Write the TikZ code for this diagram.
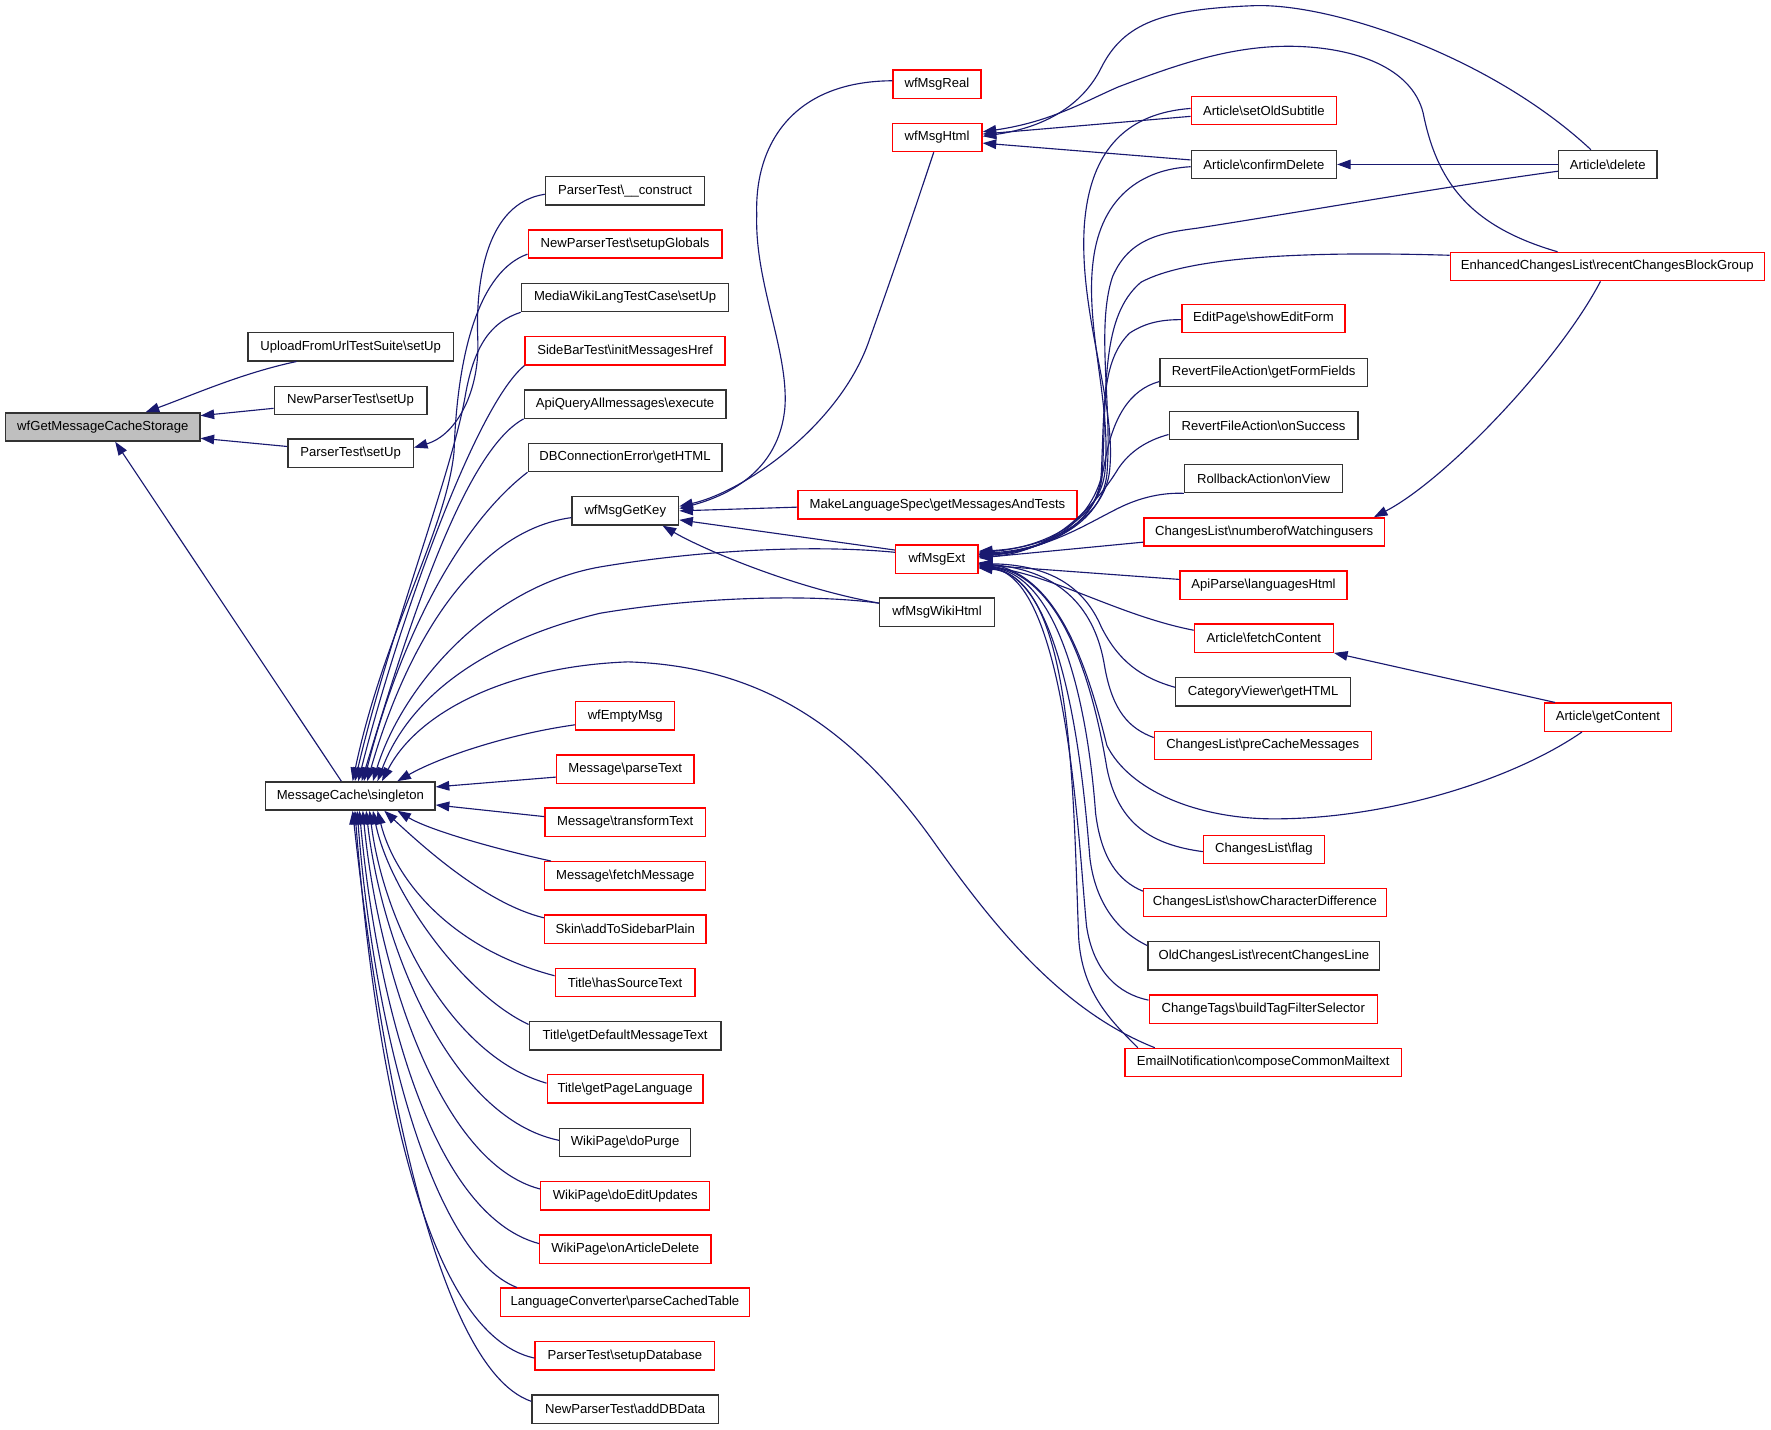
\documentclass[tikz,border=0pt]{standalone}
\usepackage{fontspec}
\setmainfont{Liberation Sans}
\usetikzlibrary{arrows.meta,calc}
\definecolor{navy}{HTML}{191970}
\definecolor{bred}{HTML}{FF0000}
\tikzset{
  box/.style={draw, rectangle, minimum height=25pt, inner xsep=3pt, inner ysep=2pt, font=\fontsize{11.6}{13}\selectfont, line width=1.2pt},
  bk/.style={box, draw=black!80},
  rd/.style={box, draw=bred},
  rt/.style={box, draw=black!80, fill=black!25},
  ed/.style={draw=navy, line width=1pt, {Triangle[length=12pt,width=8.5pt]}-},
}
\newcommand{\bs}{\textbackslash}
\begin{document}
\begin{tikzpicture}[x=1pt,y=-1pt]
\useasboundingbox (0,0) rectangle (1568,1266);
\fill[white] (0,0) rectangle (1568,1266);
% column 1-2
\node[rt, minimum width=172pt] (n0) at (91,378) {wfGetMessageCacheStorage};
\node[bk, minimum width=182pt] (up) at (310.5,307) {UploadFromUrlTestSuite\bs setUp};
\node[bk, minimum width=135pt] (nps) at (310.4,354.5) {NewParserTest\bs setUp};
\node[bk, minimum width=111pt] (pts) at (310.4,401.3) {ParserTest\bs setUp};
\node[bk, minimum width=150pt] (mcs) at (310.2,704.7) {MessageCache\bs singleton};
% column 3
\node[bk, minimum width=141pt] (ptc) at (553.4,169) {ParserTest\bs\_\_construct};
\node[rd, minimum width=171.5pt] (npg) at (553.4,216) {NewParserTest\bs setupGlobals};
\node[bk, minimum width=183.5pt] (mwl) at (553.4,263.4) {MediaWikiLangTestCase\bs setUp};
\node[rd, minimum width=177pt] (sbt) at (553.4,310.6) {SideBarTest\bs initMessagesHref};
\node[bk, minimum width=178.5pt] (aqa) at (553.4,357.8) {ApiQueryAllmessages\bs execute};
\node[bk, minimum width=171.5pt] (dbc) at (553.4,405) {DBConnectionError\bs getHTML};
\node[bk, minimum width=94.5pt] (gk) at (553.6,452.3) {wfMsgGetKey};
\node[rd, minimum width=87.6pt] (em) at (553.6,633.7) {wfEmptyMsg};
\node[rd, minimum width=121.5pt] (mpt) at (553.6,681) {Message\bs parseText};
\node[rd, minimum width=142pt] (mtt) at (553.6,728) {Message\bs transformText};
\node[rd, minimum width=142.5pt] (mfm) at (553.6,775.4) {Message\bs fetchMessage};
\node[rd, minimum width=143pt] (sk) at (553.6,822.6) {Skin\bs addToSidebarPlain};
\node[rd, minimum width=123.6pt] (ths) at (553.4,869.9) {Title\bs hasSourceText};
\node[bk, minimum width=169.6pt] (tgd) at (553.4,917) {Title\bs getDefaultMessageText};
\node[rd, minimum width=137.8pt] (tgp) at (553.4,964) {Title\bs getPageLanguage};
\node[bk, minimum width=116pt] (wdp) at (553.4,1011.6) {WikiPage\bs doPurge};
\node[rd, minimum width=149.6pt] (wde) at (553.6,1058.7) {WikiPage\bs doEditUpdates};
\node[rd, minimum width=151.7pt] (wod) at (553.6,1106) {WikiPage\bs onArticleDelete};
\node[rd, minimum width=220pt] (lc) at (553.3,1153) {LanguageConverter\bs parseCachedTable};
\node[rd, minimum width=159pt] (psd) at (553.3,1200.4) {ParserTest\bs setupDatabase};
\node[bk, minimum width=165pt] (nad) at (553.5,1247.7) {NewParserTest\bs addDBData};
% column 4
\node[rd, minimum width=78pt] (mr) at (829.6,74.5) {wfMsgReal};
\node[rd, minimum width=79.5pt] (mh) at (829.7,121.7) {wfMsgHtml};
\node[rd, minimum width=247pt] (ml) at (830,447) {MakeLanguageSpec\bs getMessagesAndTests};
\node[rd, minimum width=73pt] (mx) at (829.5,495) {wfMsgExt};
\node[bk, minimum width=101.6pt] (mw) at (829.6,542) {wfMsgWikiHtml};
% column 5
\node[rd, minimum width=128.5pt] (so) at (1119,98) {Article\bs setOldSubtitle};
\node[bk, minimum width=128.5pt] (cd) at (1119,145.6) {Article\bs confirmDelete};
\node[rd, minimum width=144.4pt] (ef) at (1118.6,282) {EditPage\bs showEditForm};
\node[bk, minimum width=183.5pt] (rg) at (1118.8,329.8) {RevertFileAction\bs getFormFields};
\node[bk, minimum width=167pt] (ro) at (1118.7,376.7) {RevertFileAction\bs onSuccess};
\node[bk, minimum width=140pt] (rv) at (1118.8,423.7) {RollbackAction\bs onView};
\node[rd, minimum width=213pt] (nw) at (1119.3,471) {ChangesList\bs numberofWatchingusers};
\node[rd, minimum width=148pt] (ap) at (1118.7,518) {ApiParse\bs languagesHtml};
\node[rd, minimum width=123pt] (fc) at (1119,565) {Article\bs fetchContent};
\node[bk, minimum width=155pt] (cv) at (1118.4,612.5) {CategoryViewer\bs getHTML};
\node[rd, minimum width=192pt] (pc) at (1118,660) {ChangesList\bs preCacheMessages};
\node[rd, minimum width=107pt] (fl) at (1119,752) {ChangesList\bs flag};
\node[rd, minimum width=215pt] (sc) at (1120,799) {ChangesList\bs showCharacterDifference};
\node[bk, minimum width=205pt] (ol) at (1119,846.2) {OldChangesList\bs recentChangesLine};
\node[rd, minimum width=202pt] (ct) at (1118.5,893.5) {ChangeTags\bs buildTagFilterSelector};
\node[rd, minimum width=245pt] (en) at (1118.5,940.7) {EmailNotification\bs composeCommonMailtext};
% column 6
\node[bk, minimum width=87pt] (ad) at (1423.5,145.6) {Article\bs delete};
\node[rd, minimum width=278pt] (ec) at (1423,236) {EnhancedChangesList\bs recentChangesBlockGroup};
\node[rd, minimum width=112.5pt] (gc) at (1423.6,635) {Article\bs getContent};

% ---- edges to wfGetMessageCacheStorage
\draw[ed] ($(n0.north)+(38,0)$) .. controls (170,350) and (215,330) .. ($(up.south)+(-48,0)$);
\draw[ed] ($(n0.east)+(0,-10)$) -- ($(nps.west)+(0,7)$);
\draw[ed] ($(n0.east)+(0,10)$) -- ($(pts.west)+(0,-6)$);
\draw[ed] ($(n0.south)+(11,0)$) -- ($(mcs.north)+(-8,0)$);
% ParserTest construct -> setUp
\draw[ed] ($(pts.east)+(0,-5)$) .. controls (405,385) and (425,345) .. (423,300) .. controls (421,250) and (430,180) .. ($(ptc.west)+(0,3)$);
% ---- edges to MessageCache singleton (top)
\draw[ed] ($(mcs.north)+(2,0)$) .. controls (340,560) and (395,470) .. (402,400) .. controls (405,310) and (425,240) .. ($(npg.west)+(0,9)$);
\draw[ed] ($(mcs.north)+(4,0)$) .. controls (345,560) and (400,420) .. (412,350) .. controls (420,305) and (435,285) .. (mwl.south west);
\draw[ed] ($(mcs.north)+(7,0)$) .. controls (350,560) and (420,360) .. (sbt.south west);
\draw[ed] ($(mcs.north)+(10,0)$) .. controls (360,560) and (410,400) .. (aqa.south west);
\draw[ed] ($(mcs.north)+(12,0)$) .. controls (350,580) and (400,470) .. (dbc.south west);
\draw[ed] ($(mcs.north)+(15,0)$) .. controls (360,570) and (420,470) .. ($(gk.west)+(0,6)$);
\draw[ed] ($(mcs.north)+(20,0)$) .. controls (355,610) and (430,520) .. (531,502) .. controls (620,487) and (720,482) .. ($(mx.west)+(0,-6)$);
\draw[ed] ($(mcs.north)+(24,0)$) .. controls (365,610) and (440,565) .. (531,543) .. controls (620,528) and (720,526) .. ($(mw.west)+(0,-8)$);
\draw[ed] ($(mcs.north)+(28,0)$) .. controls (370,630) and (450,590) .. (556,586) .. controls (680,590) and (760,650) .. (830,750) .. controls (880,820) and (940,895) .. ($(en.north west)+(27,0)$);
\draw[ed] ($(mcs.north east)+(-34,0)$) .. controls (390,670) and (450,650) .. ($(em.west)+(0,8)$);
\draw[ed] ($(mcs.east)+(0,-8)$) -- ($(mpt.west)+(0,7)$);
\draw[ed] ($(mcs.east)+(0,8)$) -- ($(mtt.west)+(0,-5)$);
% ---- edges to MessageCache singleton (bottom)
\draw[ed] ($(mcs.south east)+(-34,0)$) .. controls (380,735) and (440,752) .. ($(mfm.north west)+(6,0)$);
\draw[ed] ($(mcs.south)+(30,0)$) .. controls (375,750) and (430,800) .. ($(sk.west)+(0,-10)$);
\draw[ed] ($(mcs.south)+(24,0)$) .. controls (350,780) and (400,840) .. ($(ths.west)+(0,-6)$);
\draw[ed] ($(mcs.south)+(20,0)$) .. controls (345,790) and (410,880) .. ($(tgd.west)+(0,-10)$);
\draw[ed] ($(mcs.south)+(17,0)$) .. controls (340,820) and (400,935) .. ($(tgp.west)+(0,-5)$);
\draw[ed] ($(mcs.south)+(14,0)$) .. controls (338,840) and (400,990) .. ($(wdp.west)+(0,-2)$);
\draw[ed] ($(mcs.south)+(11,0)$) .. controls (335,860) and (390,1030) .. ($(wde.west)+(0,-6)$);
\draw[ed] ($(mcs.south)+(8,0)$) .. controls (333,880) and (380,1075) .. ($(wod.west)+(0,-5)$);
\draw[ed] ($(mcs.south)+(6,0)$) .. controls (330,900) and (380,1110) .. ($(lc.north west)+(15,0)$);
\draw[ed] ($(mcs.south)+(4,0)$) .. controls (330,920) and (370,1180) .. ($(psd.west)+(0,2)$);
\draw[ed] ($(mcs.south)+(2,0)$) .. controls (332,900) and (380,1210) .. ($(nad.west)+(0,-7)$);
% ---- edges to wfMsgGetKey
\draw[ed] ($(gk.east)+(0,-2)$) .. controls (640,440) and (690,420) .. (695,360) .. controls (698,310) and (668,250) .. (670,190) .. controls (668,130) and (700,72) .. ($(mr.west)+(0,-3)$);
\draw[ed] ($(gk.east)+(0,-4)$) .. controls (660,435) and (745,375) .. (770,300) .. controls (795,230) and (815,170) .. ($(mh.south)+(-3,0)$);
\draw[ed] (gk.east) -- ($(ml.west)+(0,2)$);
\draw[ed] ($(gk.east)+(0,8)$) -- ($(mx.west)+(0,-8)$);
\draw[ed] ($(gk.south)+(33,0)$) .. controls (620,485) and (700,520) .. ($(mw.west)+(0,-8)$);
% ---- edges to wfMsgHtml
\draw[ed] ($(mh.east)+(0,-3)$) -- ($(so.west)+(0,5)$);
\draw[ed] ($(mh.east)+(0,5)$) -- ($(cd.west)+(0,-4)$);
\draw[ed] ($(mh.east)+(0,-1)$) .. controls (930,112) and (960,90) .. (975,60) .. controls (995,20) and (1030,8) .. (1111,5) .. controls (1180,3) and (1320,50) .. ($(ad.north)+(-15,0)$);
\draw[ed] ($(mh.east)+(0,-5)$) .. controls (930,108) and (960,90) .. (990,77) .. controls (1040,58) and (1090,40) .. (1145,41) .. controls (1200,42) and (1250,60) .. (1260,100) .. controls (1272,160) and (1300,200) .. ($(ec.north)+(-44,0)$);
% ---- Article delete -> confirmDelete
\draw[ed] (cd.east) -- (ad.west);
% ---- edges to wfMsgExt
\draw[ed] ($(mx.east)+(0,-7)$) .. controls (930,485) and (975,460) .. (982,420) .. controls (990,360) and (955,280) .. (960,200) .. controls (965,130) and (1000,100) .. ($(so.west)+(0,-2)$);
\draw[ed] ($(mx.east)+(0,-6)$) .. controls (925,485) and (972,460) .. (978,420) .. controls (985,360) and (960,290) .. (968,230) .. controls (975,175) and (1010,150) .. ($(cd.west)+(0,2)$);
\draw[ed] ($(mx.east)+(0,-5)$) .. controls (925,487) and (975,465) .. (980,420) .. controls (985,360) and (970,290) .. (985,245) .. controls (1000,210) and (1030,206) .. (1060,202) .. controls (1150,188) and (1280,165) .. ($(ad.west)+(0,6)$);
\draw[ed] ($(mx.east)+(0,-4)$) .. controls (925,488) and (972,465) .. (976,420) .. controls (980,340) and (975,280) .. (1010,250) .. controls (1050,228) and (1150,222) .. ($(ec.west)+(0,-10)$);
\draw[ed] ($(mx.east)+(0,-4)$) .. controls (925,488) and (972,465) .. (975,420) .. controls (978,360) and (975,320) .. (1000,295) .. controls (1015,285) and (1030,283) .. ($(ef.west)+(0,1)$);
\draw[ed] ($(mx.east)+(0,-3)$) .. controls (930,488) and (970,460) .. (978,410) .. controls (985,370) and (1000,345) .. ($(rg.west)+(0,8)$);
\draw[ed] ($(mx.east)+(0,-2)$) .. controls (935,490) and (975,440) .. (990,415) .. controls (1000,400) and (1015,390) .. ($(ro.west)+(0,8)$);
\draw[ed] ($(mx.east)+(0,-2)$) .. controls (930,485) and (960,465) .. (990,450) .. controls (1010,440) and (1030,436) .. (rv.south west);
\draw[ed] ($(mx.east)+(0,-1)$) -- ($(nw.west)+(0,9)$);
\draw[ed] ($(mx.east)+(0,5)$) -- ($(ap.west)+(0,-5)$);
\draw[ed] ($(mx.east)+(0,6)$) .. controls (930,508) and (990,545) .. ($(fc.west)+(0,-7)$);
\draw[ed] ($(mx.east)+(0,4)$) .. controls (930,500) and (960,520) .. (975,555) .. controls (990,585) and (1010,600) .. ($(cv.west)+(0,-4)$);
\draw[ed] ($(mx.east)+(0,4)$) .. controls (940,505) and (970,540) .. (978,590) .. controls (985,630) and (1000,645) .. ($(pc.west)+(0,-7)$);
\draw[ed] ($(mx.east)+(0,3)$) .. controls (940,510) and (965,600) .. (980,660) .. controls (1000,700) and (1060,725) .. (1128,725) .. controls (1230,725) and (1340,690) .. ($(gc.south)+(-23,0)$);
\draw[ed] ($(mx.east)+(0,5)$) .. controls (945,510) and (970,620) .. (980,680) .. controls (990,730) and (1020,748) .. ($(fl.west)+(0,2)$);
\draw[ed] ($(mx.east)+(0,6)$) .. controls (945,510) and (965,650) .. (970,720) .. controls (975,760) and (990,780) .. ($(sc.west)+(0,-10)$);
\draw[ed] ($(mx.east)+(0,7)$) .. controls (945,510) and (960,700) .. (965,760) .. controls (970,800) and (990,825) .. ($(ol.west)+(0,-9)$);
\draw[ed] ($(mx.east)+(0,7)$) .. controls (945,510) and (955,750) .. (962,820) .. controls (968,860) and (990,880) .. ($(ct.west)+(0,-8)$);
\draw[ed] ($(mx.east)+(0,8)$) .. controls (950,510) and (950,700) .. (955,830) .. controls (958,880) and (985,905) .. ($(en.north west)+(12,0)$);
% ---- other edges
\draw[ed] ($(nw.north east)+(-10,0)$) .. controls (1280,425) and (1380,320) .. ($(ec.south)+(-6,0)$);
\draw[ed] (fc.south east) -- ($(gc.north west)+(10,0)$);
\end{tikzpicture}
\end{document}
